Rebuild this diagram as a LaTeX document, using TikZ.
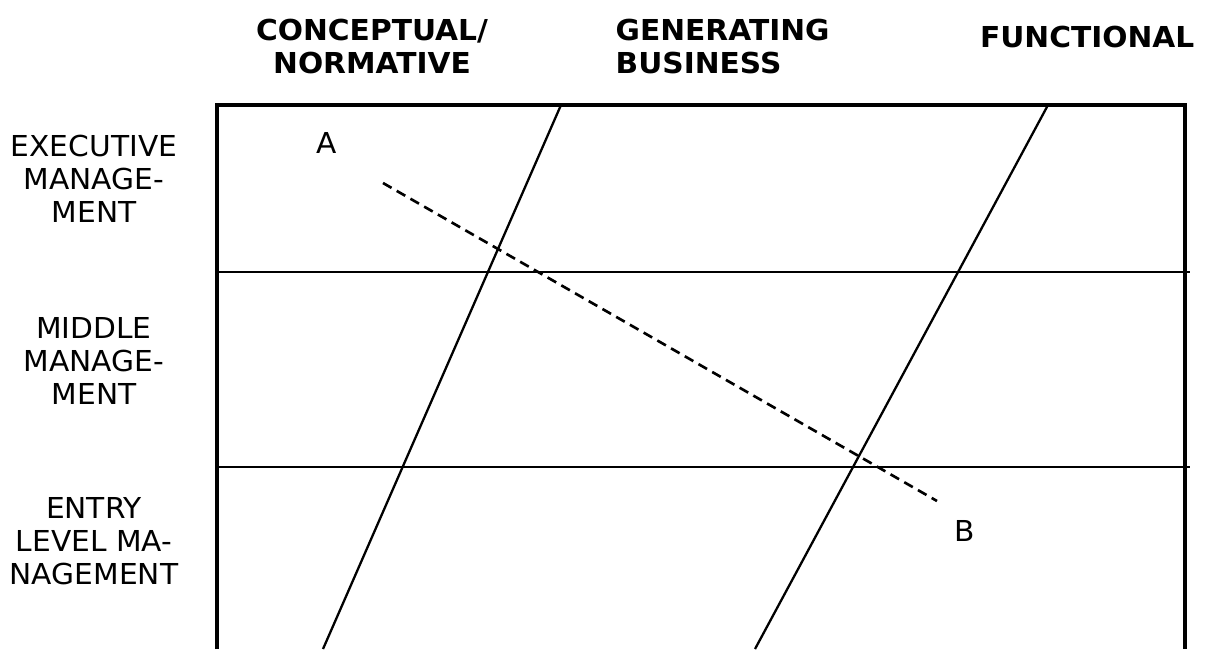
\documentclass[tikz,border=0pt]{standalone}
\usepackage{fontspec}
\setmainfont{DejaVu Sans}[FakeStretch=1.03]
\usepackage{tikz}
\usetikzlibrary{positioning,calc}

\begin{document}
\begin{tikzpicture}[
  rowlab/.style={font=\fontsize{8.2}{9.4}\selectfont,align=center,inner sep=0},
  collab/.style={font=\fontsize{8.2}{9.4}\selectfont\bfseries,inner sep=0},
  ptlab/.style={font=\fontsize{8.2}{9.4}\selectfont,inner sep=0},
  frame/.style={line width=0.95pt},
  divide/.style={line width=0.75pt},
  slant/.style={line width=0.65pt}]
  \useasboundingbox (0,0) rectangle (12.10,6.49);
  % column heads
  \node[collab,align=center] (concept) at (3.72,6.025) {CONCEPTUAL/\\NORMATIVE};
  \node[collab,align=left,anchor=west] (generate) at (6.15,6.025) {GENERATING\\BUSINESS};
  \node[collab,anchor=east] (function) at (11.95,6.12) {FUNCTIONAL};
  % row heads
  \node[rowlab] (exec) at (0.94,4.70) {EXECUTIVE\\MANAGE-\\MENT};
  \node[rowlab] (middle) at (0.94,2.88) {MIDDLE\\MANAGE-\\MENT};
  \node[rowlab] (entry) at (0.94,1.08) {ENTRY\\LEVEL MA-\\NAGEMENT};
  % frame and grid
  \coordinate (bl) at (2.17,0);
  \coordinate (tl) at (2.17,5.44);
  \coordinate (tr) at (11.85,5.44);
  \coordinate (br) at (11.85,0);
  \draw[frame] (bl) -- (tl) -- (tr) -- (br);
  \coordinate (h1l) at (2.17,3.77);
  \coordinate (h1r) at (11.90,3.77);
  \coordinate (h2l) at (2.17,1.82);
  \coordinate (h2r) at (11.90,1.82);
  \draw[divide] (h1l) -- (h1r);
  \draw[divide] (h2l) -- (h2r);
  \coordinate (s1t) at (5.61,5.44);
  \coordinate (s1b) at (3.23,0);
  \coordinate (s2t) at (10.48,5.44);
  \coordinate (s2b) at (7.55,0);
  \draw[slant] (s1t) -- (s1b);
  \draw[slant] (s2t) -- (s2b);
  % path from A to B
  \node[ptlab] (A) at (3.27,5.06) {A};
  \node[ptlab] (B) at (9.65,1.18) {B};
  \coordinate (dA) at (3.83,4.66);
  \coordinate (dB) at (9.37,1.48);
  \draw[line width=0.75pt,dash pattern=on 2.8pt off 1.7pt] (dA) -- (dB);
\end{tikzpicture}
\end{document}
